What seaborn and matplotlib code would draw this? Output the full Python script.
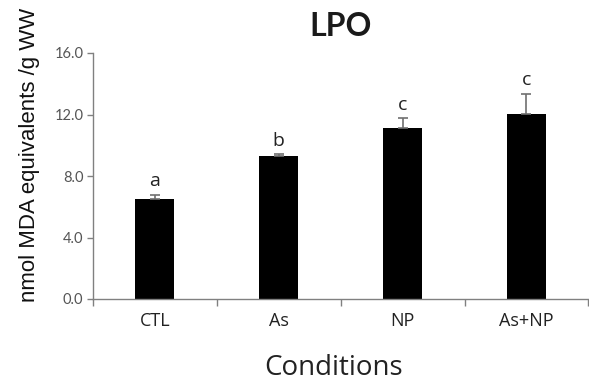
import matplotlib
matplotlib.use("Agg")
import matplotlib.pyplot as plt
import seaborn as sns
import numpy as np
import pandas as pd

conditions = ["CTL", "As", "NP", "As+NP"]
lpo_values = [6.5, 9.3, 11.1, 12.05]
lpo_errors = [0.27, 0.1, 0.65, 1.3]
letters = ["a", "b", "c", "c"]
yticks = [0.0, 4.0, 8.0, 12.0, 16.0]

sns.set_style("white")
df = pd.DataFrame({"Conditions": conditions, "LPO": lpo_values})

fig = plt.figure(figsize=(5.89, 3.82), dpi=100)
ax = fig.add_axes([93/589, 1-299/382, (589-93)/589 - 0.001, (299-53)/382])

sns.barplot(data=df, x="Conditions", y="LPO", color="black", width=0.315,
            errorbar=None, ax=ax, saturation=1, edgecolor="black", linewidth=0)

xs = np.arange(len(conditions))
ax.errorbar(xs, lpo_values, yerr=[np.zeros(len(xs)), lpo_errors], fmt="none",
            ecolor="#6f6f6f", elinewidth=1.2, capsize=3.5, capthick=1.2)

for x, v, e, l in zip(xs, lpo_values, lpo_errors, letters):
    ax.text(x, v + e + 0.3, l, ha="center", va="bottom", fontsize=14,
            family=["Open Sans", "DejaVu Sans"], color="#222222")

ax.set_xlim(-0.5, 3.5)
ax.set_ylim(0, 16)
ax.set_yticks(yticks)
ax.set_yticklabels([f"{t:.1f}" for t in yticks], fontsize=10.5, color="#555555",
                   family=["Lato", "DejaVu Sans"])
ax.set_xticks(xs)
ax.set_xticklabels(conditions, fontsize=13, color="#222222",
                   family=["Open Sans", "DejaVu Sans"])
ax.set_xticks([-0.5, 0.5, 1.5, 2.5, 3.5], minor=True)
ax.tick_params(axis="x", which="major", length=0, pad=9)
ax.tick_params(axis="x", which="minor", length=5, width=1, color="#808080", direction="out", bottom=True)
ax.tick_params(axis="y", length=4, width=1, color="#808080", direction="out", left=True, pad=3)

for s in ["top", "right"]:
    ax.spines[s].set_visible(False)
for s in ["left", "bottom"]:
    ax.spines[s].set_color("#808080")
    ax.spines[s].set_linewidth(1)

ax.set_xlabel("")
ax.set_ylabel("")
fig.text(334/589, 1-368/382, "Conditions", ha="center", va="center", fontsize=20,
         family=["Open Sans", "DejaVu Sans"], color="#222222")
fig.text(30/589, 1-155/382, "nmol MDA equivalents /g WW", rotation=90, ha="center",
         va="center", fontsize=16, family=["Liberation Sans", "DejaVu Sans"], color="#111111")
fig.text(341/589, 1-27/382, "LPO", ha="center", va="center", fontsize=23,
         fontweight="bold", family=["Lato", "DejaVu Sans"], color="#1a1a1a")

fig.savefig("out.png", dpi=100)
